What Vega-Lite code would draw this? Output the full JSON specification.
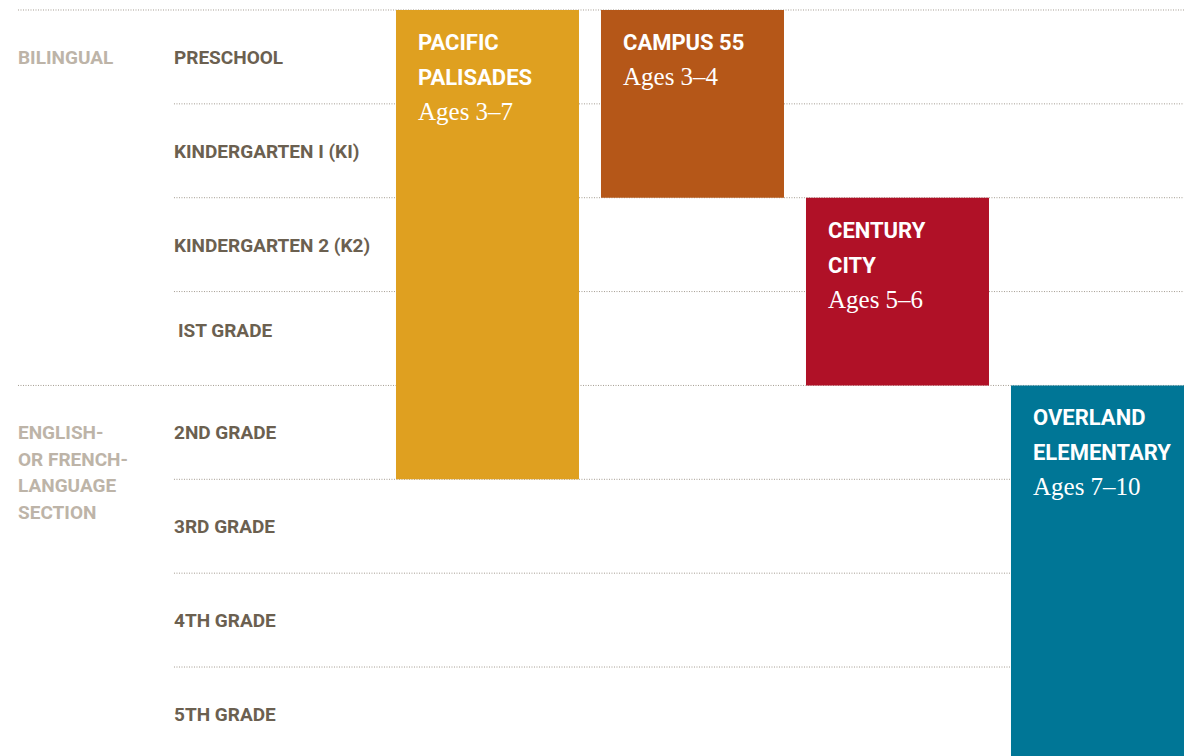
{
  "$schema": "https://vega.github.io/schema/vega-lite/v6.json",
  "width": 1184,
  "height": 756,
  "autosize": {"type": "none"},
  "padding": 0,
  "background": "white",
  "config": {"view": {"stroke": null}},
  "datasets": {
    "grid": [
      {"row": 0, "section": true},
      {"row": 1, "section": false},
      {"row": 2, "section": false},
      {"row": 3, "section": false},
      {"row": 4, "section": true},
      {"row": 5, "section": false},
      {"row": 6, "section": false},
      {"row": 7, "section": false}
    ],
    "grades": [
      {"row": 0, "grade": "PRESCHOOL"},
      {"row": 1, "grade": "KINDERGARTEN I (KI)"},
      {"row": 2, "grade": "KINDERGARTEN 2 (K2)"},
      {"row": 3, "grade": "IST GRADE"},
      {"row": 4, "grade": "2ND GRADE"},
      {"row": 5, "grade": "3RD GRADE"},
      {"row": 6, "grade": "4TH GRADE"},
      {"row": 7, "grade": "5TH GRADE"}
    ],
    "sections": [
      {"row": 0, "section": "BILINGUAL"},
      {"row": 4, "section": "ENGLISH-\nOR FRENCH-\nLANGUAGE\nSECTION"}
    ],
    "schools": [
      {"school": "Pacific Palisades", "col": 0, "start": 0, "end": 5},
      {"school": "Campus 55", "col": 1, "start": 0, "end": 2},
      {"school": "Century City", "col": 2, "start": 2, "end": 4},
      {"school": "Overland Elementary", "col": 3, "start": 4, "end": 8}
    ],
    "labels": [
      {"school": "Pacific Palisades", "col": 0, "start": 0, "line": 0, "kind": "title", "text": "PACIFIC"},
      {"school": "Pacific Palisades", "col": 0, "start": 0, "line": 1, "kind": "title", "text": "PALISADES"},
      {"school": "Pacific Palisades", "col": 0, "start": 0, "line": 2, "kind": "ages", "text": "Ages 3–7"},
      {"school": "Campus 55", "col": 1, "start": 0, "line": 0, "kind": "title", "text": "CAMPUS 55"},
      {"school": "Campus 55", "col": 1, "start": 0, "line": 1, "kind": "ages", "text": "Ages 3–4"},
      {"school": "Century City", "col": 2, "start": 2, "line": 0, "kind": "title", "text": "CENTURY"},
      {"school": "Century City", "col": 2, "start": 2, "line": 1, "kind": "title", "text": "CITY"},
      {"school": "Century City", "col": 2, "start": 2, "line": 2, "kind": "ages", "text": "Ages 5–6"},
      {"school": "Overland Elementary", "col": 3, "start": 4, "line": 0, "kind": "title", "text": "OVERLAND"},
      {"school": "Overland Elementary", "col": 3, "start": 4, "line": 1, "kind": "title", "text": "ELEMENTARY"},
      {"school": "Overland Elementary", "col": 3, "start": 4, "line": 2, "kind": "ages", "text": "Ages 7–10"}
    ]
  },
  "layer": [
    {
      "data": {"name": "grid"},
      "transform": [{"filter": "datum.section"}],
      "mark": {"type": "rule", "stroke": "#a39b90", "strokeWidth": 1, "strokeDash": [1, 1.5]},
      "encoding": {
        "x": {"datum": -2.2902, "type": "quantitative", "scale": {"domain": [-2.378, 3.3976], "nice": false, "zero": false, "padding": 0}, "axis": null},
        "x2": {"datum": 3.3976},
        "y": {"field": "row", "type": "quantitative", "scale": {"domain": [-0.1065, 7.948], "nice": false, "zero": false, "reverse": true}, "axis": null}
      }
    },
    {
      "data": {"name": "grid"},
      "transform": [{"filter": "!datum.section"}],
      "mark": {"type": "rule", "stroke": "#a39b90", "strokeWidth": 1, "strokeDash": [1, 1.5]},
      "encoding": {
        "x": {"datum": -1.5293, "type": "quantitative", "axis": null},
        "x2": {"datum": 3.3976},
        "y": {"field": "row", "type": "quantitative", "axis": null}
      }
    },
    {
      "data": {"name": "schools"},
      "mark": {"type": "bar", "width": 183, "cornerRadius": 0, "clip": true},
      "encoding": {
        "x": {"field": "col", "type": "quantitative", "axis": null},
        "y": {"field": "start", "type": "quantitative", "axis": null},
        "y2": {"field": "end"},
        "color": {
          "field": "school",
          "type": "nominal",
          "legend": null,
          "scale": {
            "domain": ["Pacific Palisades", "Campus 55", "Century City", "Overland Elementary"],
            "range": ["#dfa020", "#b55718", "#b01127", "#007696"]
          }
        }
      }
    },
    {
      "data": {"name": "labels"},
      "transform": [{"filter": "datum.kind == 'title' && datum.line == 0"}],
      "mark": {"type": "text", "align": "left", "baseline": "alphabetic", "dx": -69.5, "dy": 40, "font": "Roboto", "fontWeight": "bold", "fontSize": 22, "fill": "white"},
      "encoding": {
        "x": {"field": "col", "type": "quantitative", "axis": null},
        "y": {"field": "start", "type": "quantitative", "axis": null},
        "text": {"field": "text"}
      }
    },
    {
      "data": {"name": "labels"},
      "transform": [{"filter": "datum.kind == 'title' && datum.line == 1"}],
      "mark": {"type": "text", "align": "left", "baseline": "alphabetic", "dx": -69.5, "dy": 75, "font": "Roboto", "fontWeight": "bold", "fontSize": 22, "fill": "white"},
      "encoding": {
        "x": {"field": "col", "type": "quantitative", "axis": null},
        "y": {"field": "start", "type": "quantitative", "axis": null},
        "text": {"field": "text"}
      }
    },
    {
      "data": {"name": "labels"},
      "transform": [{"filter": "datum.kind == 'ages' && datum.line == 1"}],
      "mark": {"type": "text", "align": "left", "baseline": "alphabetic", "dx": -69.5, "dy": 75, "font": "Liberation Serif", "fontSize": 25, "fill": "white"},
      "encoding": {
        "x": {"field": "col", "type": "quantitative", "axis": null},
        "y": {"field": "start", "type": "quantitative", "axis": null},
        "text": {"field": "text"}
      }
    },
    {
      "data": {"name": "labels"},
      "transform": [{"filter": "datum.kind == 'ages' && datum.line == 2"}],
      "mark": {"type": "text", "align": "left", "baseline": "alphabetic", "dx": -69.5, "dy": 110, "font": "Liberation Serif", "fontSize": 25, "fill": "white"},
      "encoding": {
        "x": {"field": "col", "type": "quantitative", "axis": null},
        "y": {"field": "start", "type": "quantitative", "axis": null},
        "text": {"field": "text"}
      }
    },
    {
      "data": {"name": "grades"},
      "transform": [{"filter": "datum.row != 3"}],
      "mark": {"type": "text", "align": "left", "baseline": "alphabetic", "dy": 54, "font": "Roboto", "fontWeight": "bold", "fontSize": 19, "fill": "#6b6050"},
      "encoding": {
        "x": {"datum": -1.5293, "type": "quantitative", "axis": null},
        "y": {"field": "row", "type": "quantitative", "axis": null},
        "text": {"field": "grade"}
      }
    },
    {
      "data": {"name": "grades"},
      "transform": [{"filter": "datum.row == 3"}],
      "mark": {"type": "text", "align": "left", "baseline": "alphabetic", "dy": 45, "dx": 4, "font": "Roboto", "fontWeight": "bold", "fontSize": 19, "fill": "#6b6050"},
      "encoding": {
        "x": {"datum": -1.5293, "type": "quantitative", "axis": null},
        "y": {"field": "row", "type": "quantitative", "axis": null},
        "text": {"field": "grade"}
      }
    },
    {
      "data": {"name": "sections"},
      "mark": {"type": "text", "align": "left", "baseline": "alphabetic", "dy": 54, "lineBreak": "\n", "lineHeight": 26.5, "font": "Roboto", "fontWeight": "bold", "fontSize": 19, "fill": "#bdb4a8"},
      "encoding": {
        "x": {"datum": -2.2902, "type": "quantitative", "axis": null},
        "y": {"field": "row", "type": "quantitative", "axis": null},
        "text": {"field": "section"}
      }
    }
  ]
}
